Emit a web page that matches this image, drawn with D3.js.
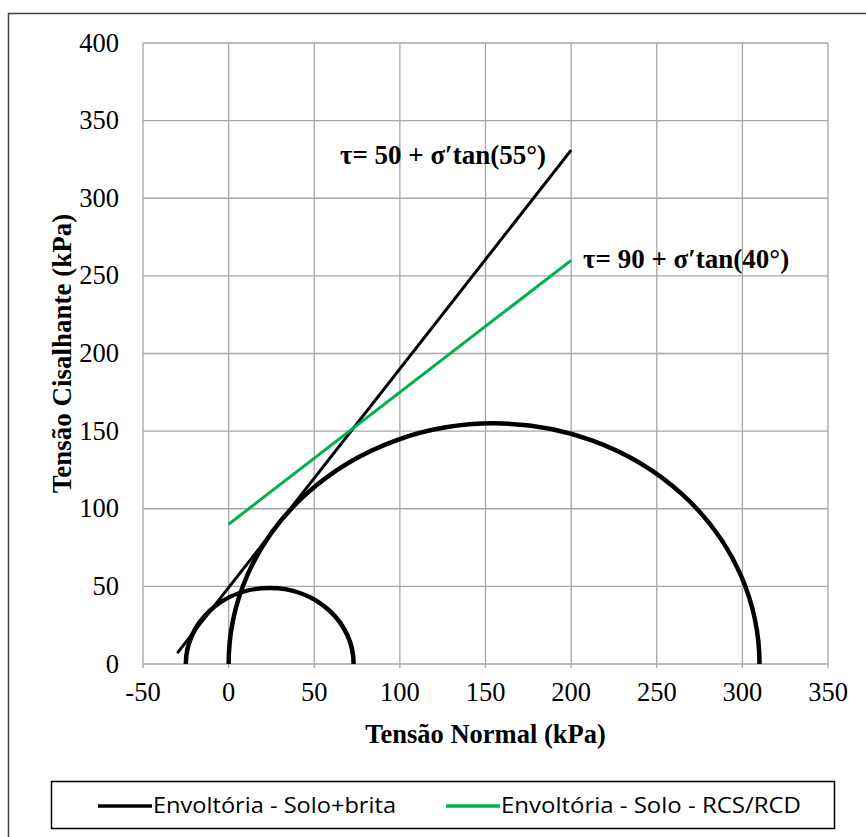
<!DOCTYPE html>
<html>
<head>
<meta charset="utf-8">
<script src="https://cdn.jsdelivr.net/npm/d3@7"></script>
<style>
  body { margin: 0; background: #fff; }
  svg { display: block; }
</style>
</head>
<body>
<script>
// x / y axis ticks
const xTicks = [-50, 0, 50, 100, 150, 200, 250, 300, 350];
const yTicks = [0, 50, 100, 150, 200, 250, 300, 350, 400];

// Mohr circles: [sigma3, sigma1]
const circles = [
  [-25, 73],
  [0, 310]
];

// failure envelopes, end points
const envSoloBrita = [[-30, 7], [200, 331]];
const envSoloRcs = [[0, 90], [200, 260]];

const labels = [
  { text: "\u03c4= 50 + \u03c3\u2032tan(55\u00b0)", sigma: 65, tau: 322 },
  { text: "\u03c4= 90 + \u03c3\u2032tan(40\u00b0)", sigma: 207, tau: 255 }
];

const legendItems = [
  { name: "Envoltória - Solo+brita", color: "#000000" },
  { name: "Envoltória - Solo - RCS/RCD", color: "#00b050" }
];

const width = 866, height = 837;
const margin = { top: 43, right: 38, bottom: 173, left: 143 };
const serif = "'Liberation Serif', 'Times New Roman', serif";

const svg = d3.select("body").append("svg")
  .attr("width", width)
  .attr("height", height);

// outer frame (left and top edges visible)
svg.append("path")
  .attr("d", `M8.5,${height} V13.5 H${width}`)
  .attr("fill", "none")
  .attr("stroke", "#404040")
  .attr("stroke-width", 1.5);

const x = d3.scaleLinear().domain([-50, 350]).range([margin.left, width - margin.right]);
const y = d3.scaleLinear().domain([0, 400]).range([height - margin.bottom, margin.top]);

const grid = svg.append("g").attr("stroke", "#a6a6a6").attr("stroke-width", 1.3);
grid.selectAll(".gx").data(xTicks).join("line")
  .attr("x1", d => x(d)).attr("x2", d => x(d))
  .attr("y1", y(400)).attr("y2", y(0) + 4);
grid.selectAll(".gy").data(yTicks).join("line")
  .attr("x1", x(-50)).attr("x2", x(350))
  .attr("y1", d => y(d)).attr("y2", d => y(d));

svg.append("g")
  .attr("font-family", serif)
  .attr("font-size", 26.5)
  .attr("text-anchor", "middle")
  .selectAll("text").data(xTicks).join("text")
  .attr("x", d => x(d))
  .attr("y", y(0) + 37)
  .text(d => d);

svg.append("g")
  .attr("font-family", serif)
  .attr("font-size", 26.5)
  .attr("text-anchor", "end")
  .selectAll("text").data(yTicks).join("text")
  .attr("x", x(-50) - 24)
  .attr("y", d => y(d) + 8.5)
  .text(d => d);

// axis titles
svg.append("text")
  .attr("x", (x(-50) + x(350)) / 2)
  .attr("y", y(0) + 79)
  .attr("text-anchor", "middle")
  .attr("font-family", serif)
  .attr("font-weight", "bold")
  .attr("font-size", 26.5)
  .text("Tensão Normal (kPa)");

svg.append("text")
  .attr("transform", `translate(71,${(y(0) + y(400)) / 2}) rotate(-90)`)
  .attr("text-anchor", "middle")
  .attr("font-family", serif)
  .attr("font-weight", "bold")
  .attr("font-size", 27)
  .text("Tensão Cisalhante (kPa)");

// Mohr circles as arcs in data space
svg.append("g")
  .attr("fill", "none")
  .attr("stroke", "#000")
  .attr("stroke-width", 4.5)
  .selectAll("path").data(circles).join("path")
  .attr("d", ([s3, s1]) => {
    const r = (s1 - s3) / 2;
    const rx = x(s3 + r) - x(s3);
    const ry = y(0) - y(r);
    return `M${x(s3)},${y(0)} A${rx},${ry} 0 0 1 ${x(s1)},${y(0)}`;
  });

const line = d3.line().x(d => x(d[0])).y(d => y(d[1]));
svg.append("path").datum(envSoloBrita)
  .attr("d", line).attr("fill", "none")
  .attr("stroke", "#000").attr("stroke-width", 3);
svg.append("path").datum(envSoloRcs)
  .attr("d", line).attr("fill", "none")
  .attr("stroke", "#00b050").attr("stroke-width", 3);

svg.append("g")
  .attr("font-family", serif)
  .attr("font-weight", "bold")
  .attr("font-size", 27)
  .selectAll("text").data(labels).join("text")
  .attr("x", d => x(d.sigma))
  .attr("y", d => y(d.tau))
  .text(d => d.text);

// legend
const lg = svg.append("g");
lg.append("rect")
  .attr("x", 51.5).attr("y", 781.5)
  .attr("width", 783).attr("height", 47)
  .attr("fill", "#fff").attr("stroke", "#000").attr("stroke-width", 1.5);

const lx = [98, 446];
const lw = [243, 300];
legendItems.forEach((d, i) => {
  lg.append("line")
    .attr("x1", lx[i]).attr("x2", lx[i] + 54)
    .attr("y1", 806).attr("y2", 806)
    .attr("stroke", d.color).attr("stroke-width", 3.5);
  lg.append("text")
    .attr("x", lx[i] + 55)
    .attr("y", 813)
    .attr("font-family", "'Open Sans', sans-serif")
    .attr("font-size", 21)
    .attr("textLength", lw[i])
    .attr("lengthAdjust", "spacingAndGlyphs")
    .text(d.name);
});
</script>
</body>
</html>
